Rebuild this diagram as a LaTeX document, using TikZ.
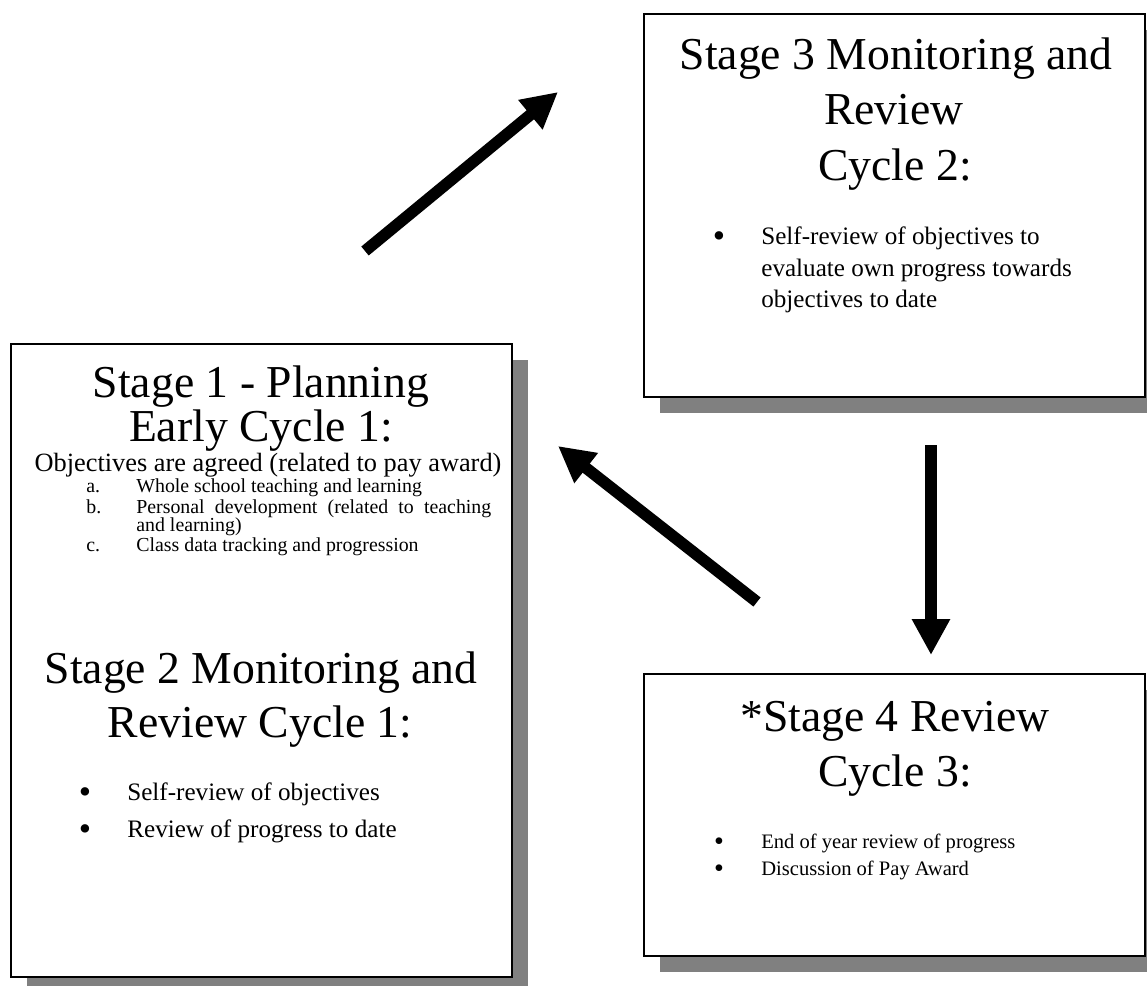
\documentclass[tikz,border=0pt]{standalone}
\usepackage{fontspec}
\setmainfont{Liberation Serif}
\usetikzlibrary{arrows.meta,shadows}

\begin{document}
\begin{tikzpicture}[
  x=0.02cm, y=-0.02cm,
  stagebox/.style={draw, line width=1.1pt, fill=white, inner sep=0pt,
    drop shadow={shadow xshift=0.32cm, shadow yshift=-0.32cm,
                 fill=black!50, opacity=1}},
  headtxt/.style={anchor=base, inner sep=0pt, font=\fontsize{26}{31}\selectfont},
  objtxt/.style={anchor=base, inner sep=0pt, font=\fontsize{15}{18}\selectfont},
  listtxt/.style={anchor=base west, inner sep=0pt, font=\fontsize{11.3}{13}\selectfont},
  itemtxt/.style={anchor=base west, inner sep=0pt, font=\fontsize{14.3}{17}\selectfont},
  itemsmall/.style={anchor=base west, inner sep=0pt, font=\fontsize{11.7}{14}\selectfont},
  bulletdot/.style={anchor=center, inner sep=0pt, font=\fontsize{20}{20}\selectfont},
  bulletsmall/.style={anchor=center, inner sep=0pt, font=\fontsize{16}{16}\selectfont},
  bigarrow/.style={-{Triangle[width=20.4pt,length=20.4pt]}, line width=6.6pt},
]
  \useasboundingbox (0,0) rectangle (1147,985);

  % boxes
  \node[stagebox, minimum width=10.02cm, minimum height=12.66cm] (stage1) at (261.5,660.5) {};
  \node[stagebox, minimum width=10.02cm, minimum height=7.66cm] (stage3) at (894.5,205.5) {};
  \node[stagebox, minimum width=10.02cm, minimum height=5.64cm] (stage4) at (894.5,815) {};

  % stage 1 - planning
  \node[headtxt] (s1a) at (261,397) {Stage 1 - Planning};
  \node[headtxt] (s1b) at (261,441) {Early Cycle 1:};
  \node[objtxt] (obj) at (268,471) {Objectives are agreed (related to pay award)};
  \node[listtxt] (la) at (86,492) {a.};
  \node[listtxt] (ta) at (136,492) {Whole school teaching and learning};
  \node[listtxt] (lb) at (86,513) {b.};
  \node[listtxt] (tb) at (136,513) {\makebox[7.1cm][s]{Personal development (related to teaching}};
  \node[listtxt] (tb2) at (136,531) {and learning)};
  \node[listtxt] (lc) at (86,551) {c.};
  \node[listtxt] (tc) at (136,551) {Class data tracking and progression};

  % stage 2 - monitoring
  \node[headtxt] (s2a) at (261,683) {Stage 2 Monitoring and};
  \node[headtxt] (s2b) at (260,737) {Review Cycle 1:};
  \node[bulletdot] (b2a) at (85,796) {\textbullet};
  \node[itemtxt] (i2a) at (127,800) {Self-review of objectives};
  \node[bulletdot] (b2b) at (85,833) {\textbullet};
  \node[itemtxt] (i2b) at (127,837) {Review of progress to date};

  % stage 3
  \node[headtxt] (s3a) at (896,69) {Stage 3 Monitoring and};
  \node[headtxt] (s3b) at (894,124) {Review};
  \node[headtxt] (s3c) at (895,180) {Cycle 2:};
  \node[bulletdot] (b3a) at (719,240) {\textbullet};
  \node[itemtxt] (i3a) at (761,244) {Self-review of objectives to};
  \node[itemtxt] (i3b) at (761,276) {evaluate own progress towards};
  \node[itemtxt] (i3c) at (761,307) {objectives to date};

  % stage 4
  \node[headtxt] (s4a) at (895,731) {*Stage 4 Review};
  \node[headtxt] (s4b) at (895,786) {Cycle 3:};
  \node[bulletsmall] (b4a) at (719,844) {\textbullet};
  \node[itemsmall] (i4a) at (761,848) {End of year review of progress};
  \node[bulletsmall] (b4b) at (719,871) {\textbullet};
  \node[itemsmall] (i4b) at (761,875) {Discussion of Pay Award};

  % arrows
  \coordinate (up1) at (365,251);
  \coordinate (up2) at (558,92);
  \coordinate (dn1) at (931,445);
  \coordinate (dn2) at (931,655);
  \coordinate (bk1) at (757,602);
  \coordinate (bk2) at (558,446);
  \draw[bigarrow] (up1) -- (up2);
  \draw[bigarrow] (dn1) -- (dn2);
  \draw[bigarrow] (bk1) -- (bk2);
\end{tikzpicture}
\end{document}
